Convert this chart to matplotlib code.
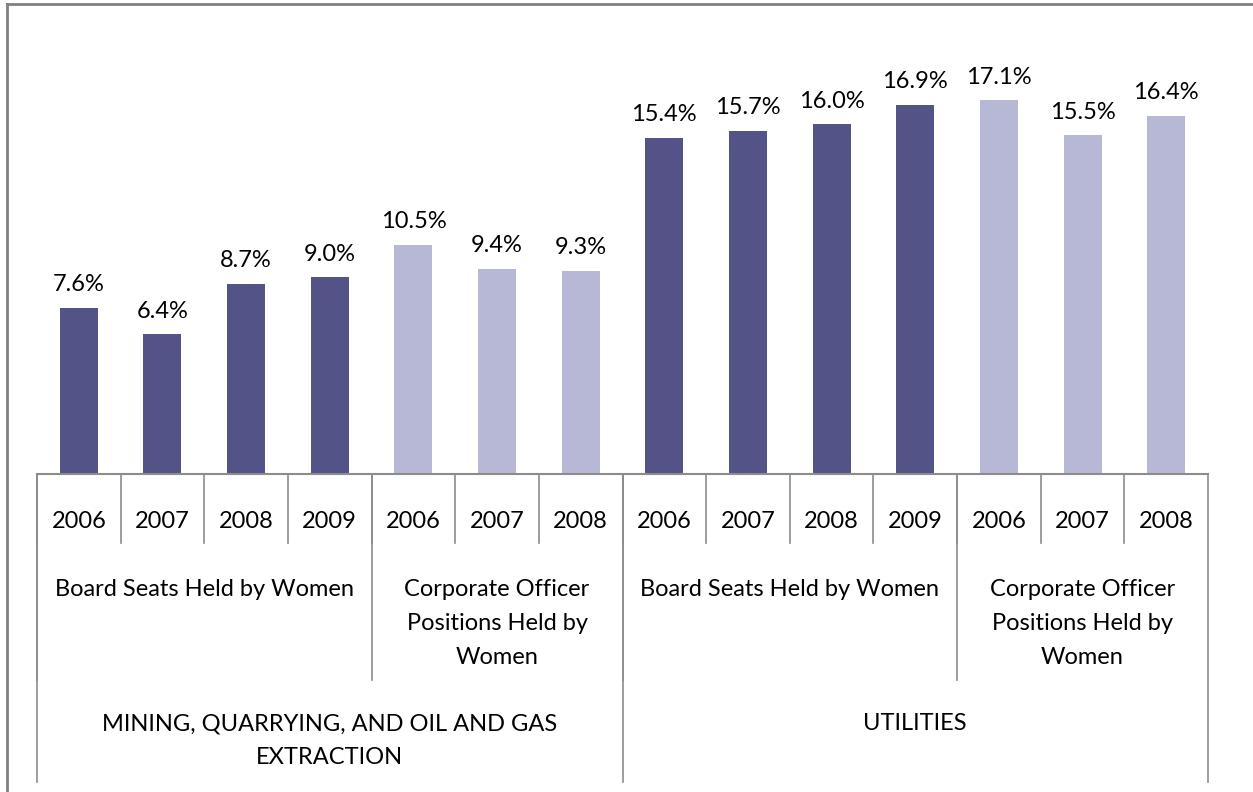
import matplotlib
matplotlib.use("Agg")
import matplotlib.pyplot as plt
from matplotlib.transforms import blended_transform_factory
from matplotlib.lines import Line2D

plt.rcParams['font.family'] = ['Lato', 'DejaVu Sans']

years = ["2006", "2007", "2008", "2009", "2006", "2007", "2008",
         "2006", "2007", "2008", "2009", "2006", "2007", "2008"]
values = [7.6, 6.4, 8.7, 9.0, 10.5, 9.4, 9.3,
          15.4, 15.7, 16.0, 16.9, 17.1, 15.5, 16.4]
measures = ["Board Seats Held by Women", "Corporate Officer\nPositions Held by\nWomen",
            "Board Seats Held by Women", "Corporate Officer\nPositions Held by\nWomen"]
measure_sizes = [4, 3, 4, 3]
sectors = ["MINING, QUARRYING, AND OIL AND GAS\nEXTRACTION", "UTILITIES"]
sector_sizes = [7, 7]

DARK = "#545387"
LIGHT = "#b7b7d6"
LINE = "#8c8c8c"
FS = 17

W, H = 1253, 792
fig = plt.figure(figsize=(W / 100, H / 100), dpi=100)
x0, x1, ybase, ytop = 37, 1208, 474, 37
ax = fig.add_axes([x0 / W, 1 - ybase / H, (x1 - x0) / W, (ybase - ytop) / H])

colors = []
for i, n in enumerate(measure_sizes):
    colors += [DARK if i % 2 == 0 else LIGHT] * n

xs = list(range(len(values)))
bars = ax.bar(xs, values, width=0.455, color=colors, zorder=2)
for x, v in zip(xs, values):
    ax.annotate(f"{v:.1f}%", (x, v), xytext=(0, 9), textcoords="offset points",
                ha="center", va="bottom", fontsize=FS)

ax.set_xlim(-0.5, len(values) - 0.5)
ax.set_ylim(0, 20)
for s in ax.spines.values():
    s.set_visible(False)
ax.set_xticks([])
ax.set_yticks([])

tr = blended_transform_factory(ax.transData, fig.transFigure)

def fy(p):
    return 1 - p / H

def vline(x, ybot):
    ax.add_line(Line2D([x, x], [fy(ybase), fy(ybot)], transform=tr,
                       color=LINE, lw=1.2, clip_on=False))

def multiline(xc, yfirst, label, step):
    for k, part in enumerate(label.split("\n")):
        ax.text(xc, fy(yfirst + k * step), part, transform=tr, ha="center",
                va="center", fontsize=FS)

# axis line
ax.add_line(Line2D([-0.5, len(values) - 0.5], [fy(ybase)] * 2, transform=tr,
                   color=LINE, lw=1.5, clip_on=False))

# level 1: years
for i, y in enumerate(years):
    ax.text(i, fy(521), y, transform=tr, ha="center", va="center", fontsize=FS)
    vline(i - 0.5, 543)

# level 2: measures
start = 0
for lab, n in zip(measures, measure_sizes):
    multiline(start + (n - 1) / 2, 589, lab, 34)
    vline(start - 0.5, 680)
    start += n

# level 3: sectors
start = 0
for lab, n in zip(sectors, sector_sizes):
    multiline(start + (n - 1) / 2, 724, lab, 33)
    vline(start - 0.5, 782)
    start += n
vline(start - 0.5, 782)

# figure border (left and top visible)
fig.add_artist(Line2D([7 / W, 7 / W], [0, fy(4)], transform=fig.transFigure,
                      color="#808080", lw=2))
fig.add_artist(Line2D([7 / W, 1], [fy(4), fy(4)], transform=fig.transFigure,
                      color="#808080", lw=2))

fig.savefig("out.png", dpi=100)
